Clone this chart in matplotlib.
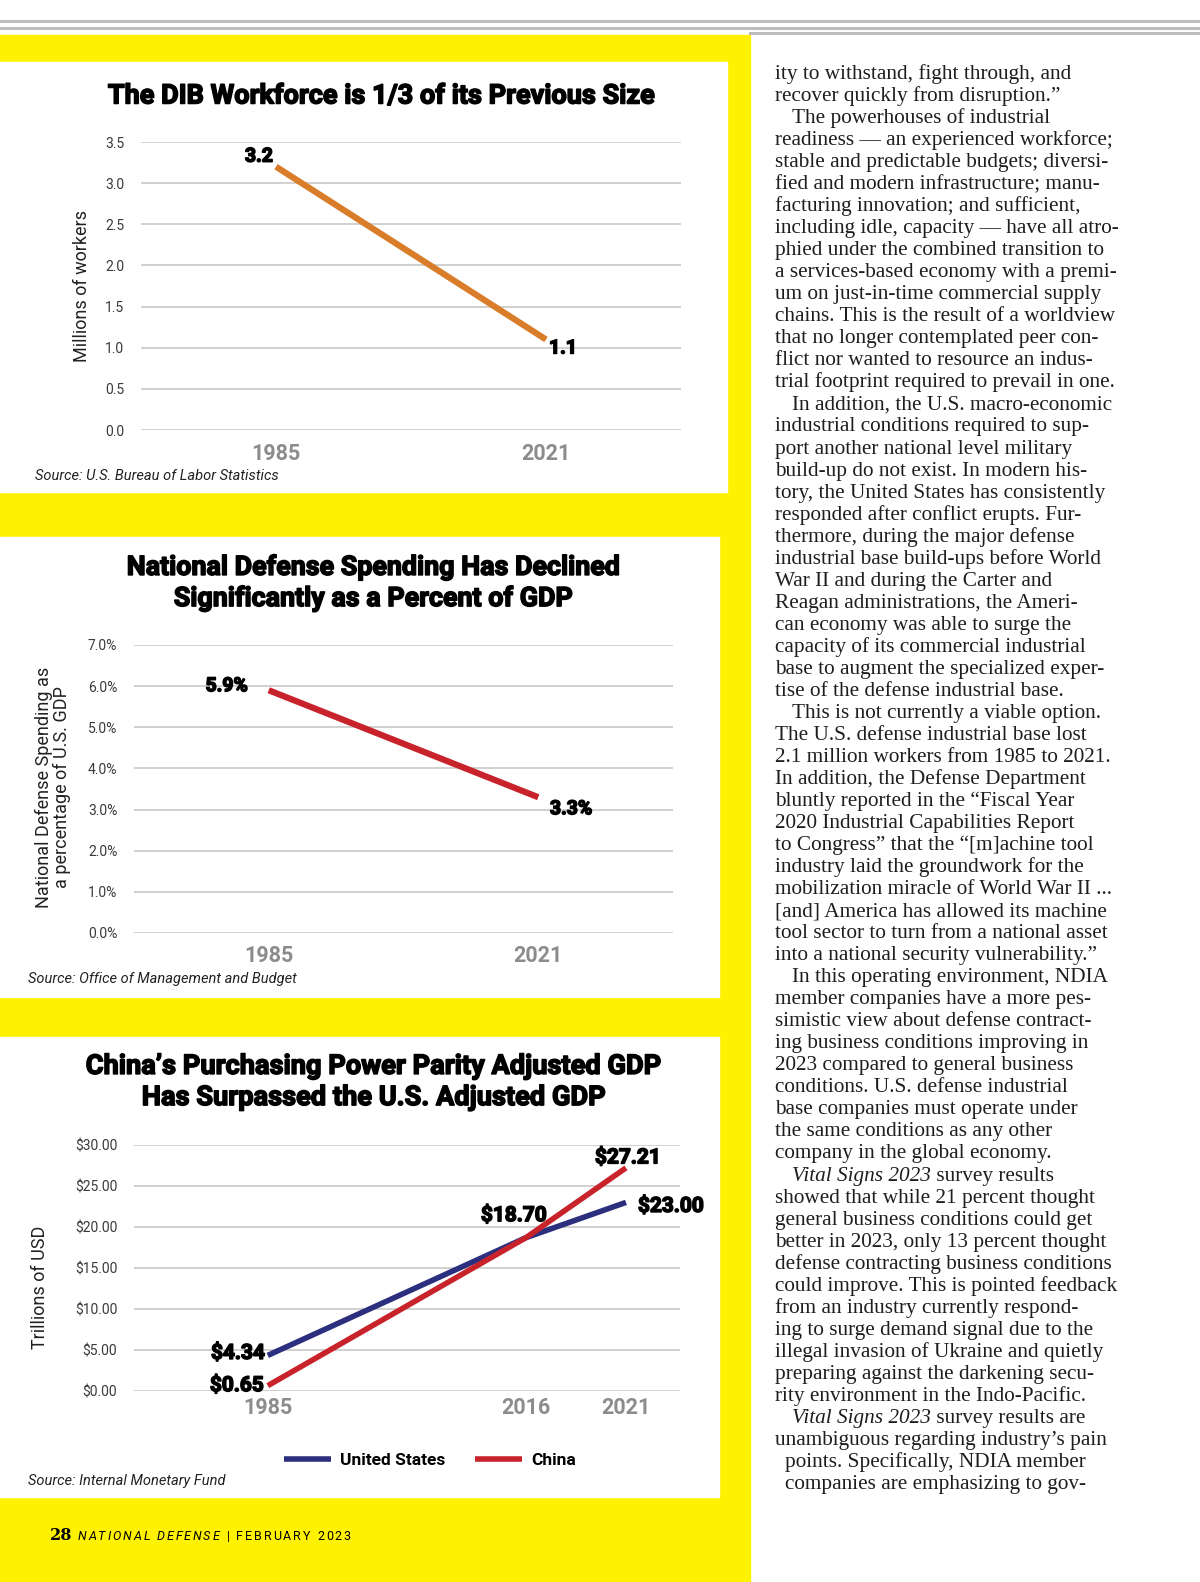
import matplotlib
matplotlib.use("Agg")
import matplotlib.pyplot as plt
import matplotlib.patheffects as pe
from matplotlib.patches import Rectangle
from matplotlib.lines import Line2D

# ---- data ----
dib_years = ["1985", "2021"]
dib_workers = [3.2, 1.1]
dib_labels = ["3.2", "1.1"]

def_years = ["1985", "2021"]
def_pct = [5.9, 3.3]
def_labels = ["5.9%", "3.3%"]

gdp_years = ["1985", "2016", "2021"]
gdp_us = [4.34, 18.70, 23.00]
gdp_china = [0.65, 18.70, 27.21]

body_lines = [
    "ity to withstand, fight through, and",
    "recover quickly from disruption.\u201d",
    "\tThe powerhouses of industrial",
    "readiness \u2014 an experienced workforce;",
    "stable and predictable budgets; diversi-",
    "fied and modern infrastructure; manu-",
    "facturing innovation; and sufficient,",
    "including idle, capacity \u2014 have all atro-",
    "phied under the combined transition to",
    "a services-based economy with a premi-",
    "um on just-in-time commercial supply",
    "chains. This is the result of a worldview",
    "that no longer contemplated peer con-",
    "flict nor wanted to resource an indus-",
    "trial footprint required to prevail in one.",
    "\tIn addition, the U.S. macro-economic",
    "industrial conditions required to sup-",
    "port another national level military",
    "build-up do not exist. In modern his-",
    "tory, the United States has consistently",
    "responded after conflict erupts. Fur-",
    "thermore, during the major defense",
    "industrial base build-ups before World",
    "War II and during the Carter and",
    "Reagan administrations, the Ameri-",
    "can economy was able to surge the",
    "capacity of its commercial industrial",
    "base to augment the specialized exper-",
    "tise of the defense industrial base.",
    "\tThis is not currently a viable option.",
    "The U.S. defense industrial base lost",
    "2.1 million workers from 1985 to 2021.",
    "In addition, the Defense Department",
    "bluntly reported in the \u201cFiscal Year",
    "2020 Industrial Capabilities Report",
    "to Congress\u201d that the \u201c[m]achine tool",
    "industry laid the groundwork for the",
    "mobilization miracle of World War II ...",
    "[and] America has allowed its machine",
    "tool sector to turn from a national asset",
    "into a national security vulnerability.\u201d",
    "\tIn this operating environment, NDIA",
    "member companies have a more pes-",
    "simistic view about defense contract-",
    "ing business conditions improving in",
    "2023 compared to general business",
    "conditions. U.S. defense industrial",
    "base companies must operate under",
    "the same conditions as any other",
    "company in the global economy.",
    "\t*Vital Signs 2023* survey results",
    "showed that while 21 percent thought",
    "general business conditions could get",
    "better in 2023, only 13 percent thought",
    "defense contracting business conditions",
    "could improve. This is pointed feedback",
    "from an industry currently respond-",
    "ing to surge demand signal due to the",
    "illegal invasion of Ukraine and quietly",
    "preparing against the darkening secu-",
    "rity environment in the Indo-Pacific.",
    "\t*Vital Signs 2023* survey results are",
    "unambiguous regarding industry\u2019s pain",
    " points. Specifically, NDIA member",
    " companies are emphasizing to gov-",
]

# ---- style ----
YELLOW = "#FFF200"
GRID = "#C4C4C4"
ORANGE = "#D97D2A"
RED = "#C8232B"
NAVY = "#2B2F7E"
TICK = "#3A3A3A"
YEARC = "#8C8C8C"
HEAVY = ["Roboto", "DejaVu Sans"]
THICK = [pe.withStroke(linewidth=1.1, foreground="black")]

plt.rcParams["font.family"] = ["Roboto", "DejaVu Sans"]

W, H = 1200, 1582
fig = plt.figure(figsize=(W / 100, H / 100), dpi=100)
renderer = fig.canvas.get_renderer()


def rect(x0, y0, x1, y1):
    return [x0 / W, 1 - y1 / H, (x1 - x0) / W, (y1 - y0) / H]


def fx(x):
    return x / W


def fy(y):
    return 1 - y / H


def fit_size(txt, target_w, size, **kw):
    # font size that makes txt about target_w pixels wide
    t = fig.text(0, 0, txt, fontsize=size, **kw)
    w = t.get_window_extent(renderer).width
    t.remove()
    return size * target_w / w


# page background pieces
fig.patches.append(Rectangle((0, 0), fx(750), fy(35), transform=fig.transFigure,
                             color=YELLOW, zorder=0))
for box in [(0, 62, 727, 492), (0, 537, 719, 997), (0, 1037, 719, 1497)]:
    x0, y0, x1, y1 = box
    fig.patches.append(Rectangle((fx(x0), fy(y1)), fx(x1 - x0), (y1 - y0) / H,
                                 transform=fig.transFigure, color="white", zorder=1))
for y, x0 in [(21, 0), (28, 0), (33, 750)]:
    fig.lines.append(Line2D([fx(x0), 1], [fy(y), fy(y)], transform=fig.transFigure,
                            color="#BDBDBD", lw=2.2))


def style_axes(ax, ymax, yticks, ylabels):
    ax.set_facecolor("none")
    for s in ax.spines.values():
        s.set_visible(False)
    ax.set_ylim(0, ymax)
    ax.set_yticks(yticks, ylabels)
    ax.grid(axis="y", color=GRID, lw=1.1)
    ax.set_axisbelow(True)
    ax.tick_params(axis="y", length=0, pad=12, labelsize=10, labelcolor=TICK)
    ax.tick_params(axis="x", length=0, pad=9, labelsize=15.5, labelcolor=YEARC)


def label(ax, txt, x, y, dx, dy, ha="center", size=14):
    ax.annotate(txt, xy=(x, y), xytext=(dx, dy), textcoords="offset pixels",
                ha=ha, va="center", fontsize=size, fontweight="bold", color="black",
                family=HEAVY, path_effects=THICK)


def title(lines, cx, cy, target_w):
    size = fit_size(lines.split("\n")[0], target_w, 18, fontweight="bold", family=HEAVY)
    fig.text(fx(cx), fy(cy), lines, ha="center", va="center", fontsize=size * 1.01,
             fontweight="bold", family=HEAVY, linespacing=1.2, path_effects=THICK)


def ylab(x, y, txt):
    fig.text(fx(x), fy(y), txt, rotation=90, ha="center", va="center",
             fontsize=13, color="#222222", linespacing=1.05)


def source(x, y, txt):
    fig.text(fx(x), fy(y), txt, ha="left", va="center", fontsize=10.5,
             style="italic", color="#222222")


# ---- chart 1 ----
title("The DIB Workforce is 1/3 of its Previous Size", 381, 96, 543)
ax1 = fig.add_axes(rect(141, 142, 681, 430), zorder=3)
x1 = range(len(dib_years))
ax1.plot(x1, dib_workers, color=ORANGE, lw=4.5, solid_capstyle="butt")
ax1.set_xlim(-0.5, 1.5)
ax1.set_xticks(list(x1), dib_years, fontweight="bold")
style_axes(ax1, 3.5, [0, 0.5, 1, 1.5, 2, 2.5, 3, 3.5],
           [f"{v:.1f}" for v in [0, 0.5, 1, 1.5, 2, 2.5, 3, 3.5]])
label(ax1, dib_labels[0], 0, dib_workers[0], -17, 10)
label(ax1, dib_labels[1], 1, dib_workers[1], 17, -9)
ylab(82, 286, "Millions of workers")
source(35, 476, "Source: U.S. Bureau of Labor Statistics")

# ---- chart 2 ----
title("National Defense Spending Has Declined\nSignificantly as a Percent of GDP", 374, 583, 489)
ax2 = fig.add_axes(rect(134, 645, 673, 933), zorder=3)
x2 = range(len(def_years))
ax2.plot(x2, def_pct, color=RED, lw=4.5, solid_capstyle="butt")
ax2.set_xlim(-0.5, 1.5)
ax2.set_xticks(list(x2), def_years, fontweight="bold")
style_axes(ax2, 7, range(8), [f"{v:.1f}%" for v in range(8)])
label(ax2, def_labels[0], 0, def_pct[0], -42, 4)
label(ax2, def_labels[1], 1, def_pct[1], 33, -12)
ylab(53, 787, "National Defense Spending as\na percentage of U.S. GDP")
source(28, 979, "Source: Office of Management and Budget")

# ---- chart 3 ----
title("China\u2019s Purchasing Power Parity Adjusted GDP\nHas Surpassed the U.S. Adjusted GDP", 374, 1082, 570)
ax3 = fig.add_axes(rect(134, 1145, 680, 1391), zorder=3)
x3 = [0, 2.58, 3.58]  # uneven category spacing as in the source graphic
ax3.plot(x3, gdp_us, color=NAVY, lw=4, solid_capstyle="butt", label="United States")
ax3.plot(x3, gdp_china, color=RED, lw=4, solid_capstyle="butt", label="China")
ax3.set_xlim(-1.337, 4.12)
ax3.set_xticks(x3, gdp_years, fontweight="bold")
style_axes(ax3, 30, range(0, 31, 5), [f"${v:.2f}" for v in range(0, 31, 5)])
ax3.tick_params(axis="x", pad=4)
label(ax3, f"${gdp_us[0]:.2f}", x3[0], gdp_us[0], -3, 2, ha="right", size=15)
label(ax3, f"${gdp_china[0]:.2f}", x3[0], gdp_china[0], -4, 0, ha="right", size=15)
label(ax3, f"${gdp_us[1]:.2f}", x3[1], gdp_us[1], -12, 22, size=15)
label(ax3, f"${gdp_china[2]:.2f}", x3[2], gdp_china[2], 2, 10, size=15)
label(ax3, f"${gdp_us[2]:.2f}", x3[2], gdp_us[2], 12, -4, ha="left", size=15)
fig.legend(handles=ax3.get_lines(), loc="center", bbox_to_anchor=(fx(430), fy(1460)),
           ncol=2, frameon=False, handlelength=2.7, handletextpad=0.55, columnspacing=1.7,
           prop={"weight": "bold", "size": 12.5})
ylab(40, 1287, "Trillions of USD")
source(28, 1481, "Source: Internal Monetary Fund")


# ---- footer ----
def spaced(x, y, s, gap, **kw):
    for ch in s:
        t = fig.text(fx(x), fy(y), ch, ha="left", va="center", **kw)
        x += t.get_window_extent(renderer).width + gap
    return x


fig.text(fx(50), fy(1536), "28", ha="left", va="center", fontsize=11.5,
         fontweight="bold", family="DejaVu Serif", color="black")
xe = spaced(78, 1536, "NATIONAL DEFENSE", 1.9, fontsize=9, style="italic", color="black")
xe = spaced(xe + 6, 1536, "|", 0, fontsize=9, color="black")
spaced(xe + 6, 1536, "FEBRUARY 2023", 1.9, fontsize=9, color="black")

# ---- body text column ----
body_size = fit_size("readiness \u2014 an experienced workforce;", 338, 14.6,
                     family="Liberation Serif")
body_kw = dict(family="Liberation Serif", fontsize=body_size, color="#1E1E1E", va="baseline")
for i, line in enumerate(body_lines):
    y = fy(79 + i * 22.03)
    x = 775
    if line.startswith("\t"):
        x = 792
        line = line[1:]
    elif line.startswith(" "):
        x = 785
        line = line[1:]
    parts = line.split("*")
    for k, part in enumerate(parts):
        if not part:
            continue
        t = fig.text(fx(x), y, part, ha="left", style="italic" if k % 2 else "normal", **body_kw)
        x += t.get_window_extent(renderer).width

fig.savefig("out.png", dpi=100, facecolor="white")
